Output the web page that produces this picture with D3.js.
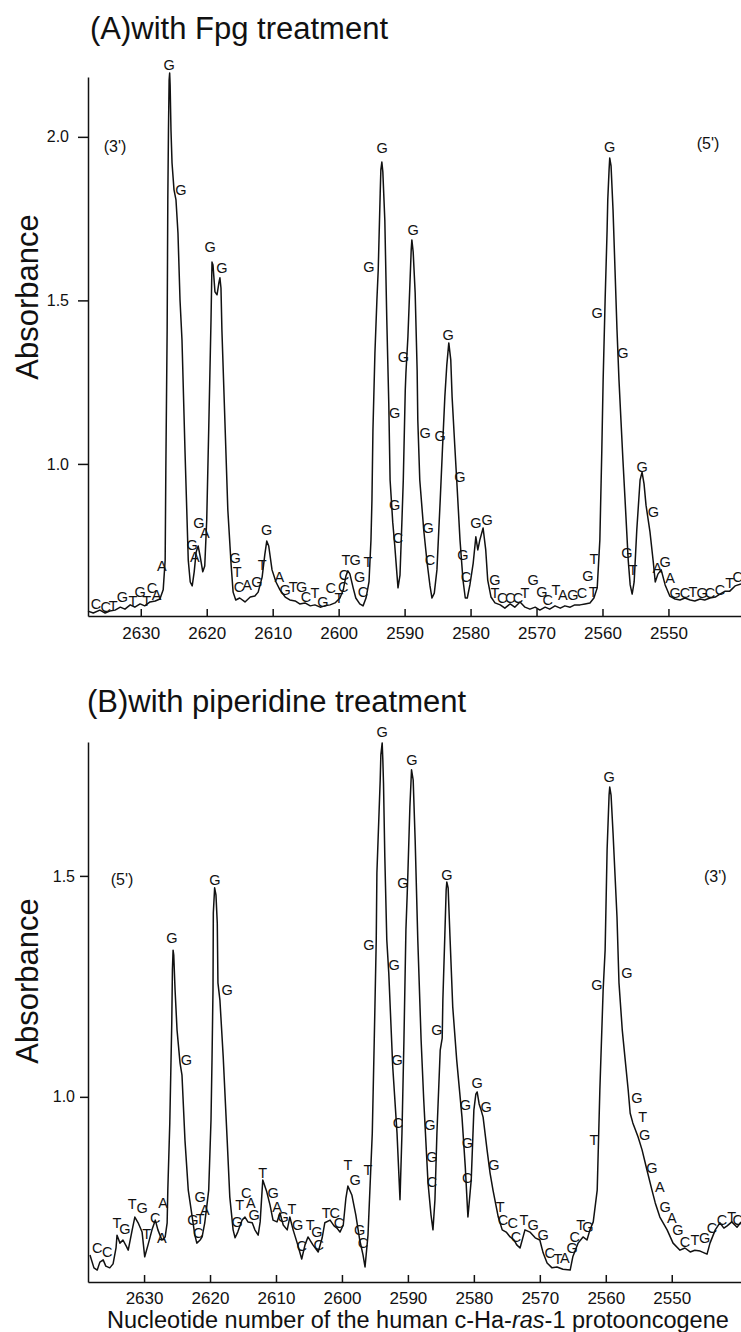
<!DOCTYPE html>
<html>
<head>
<meta charset="utf-8">
<script src="https://cdn.jsdelivr.net/npm/d3@7"></script>
<style>
  body { margin: 0; background: #fff; }
  svg { display: block; font-family: "Liberation Sans", Arial, Helvetica, sans-serif; }
  .trace { fill: none; stroke: #111; stroke-width: 1.5; stroke-linejoin: round; }
  .axis path, .axis line { stroke: #111; stroke-width: 1.5; }
  .axis text { font-family: "Liberation Sans", Arial, sans-serif; fill: #111; }
  .base { font-size: 14.5px; fill: #111; }
  .ends { font-size: 16px; fill: #111; }
  .title { font-size: 31px; fill: #111; }
</style>
</head>
<body>
<div id="chart"></div>
<script>
// tick labels
var nucleotideTicks = [2630, 2620, 2610, 2600, 2590, 2580, 2570, 2560, 2550];
var absTicksA = [1.0, 1.5, 2.0];
var absTicksB = [1.0, 1.5];

// densitometer trace, (A) Fpg treatment: [nucleotide, absorbance]
var traceA = [
  [2638.0,0.550],[2637.2,0.544],[2636.2,0.553],[2635.4,0.544],[2634.7,0.550],[2633.9,0.553],[2633.1,0.562],[2632.4,0.556],
  [2631.6,0.569],[2630.9,0.562],[2630.1,0.572],[2629.4,0.566],[2628.6,0.578],[2627.8,0.581],[2627.1,0.587],[2626.6,0.615],
  [2626.3,0.706],[2626.2,0.981],[2626.0,1.410],[2625.9,1.807],[2625.8,2.021],[2625.7,2.174],[2625.62,2.195],[2625.55,2.159],
  [2625.42,2.021],[2625.26,1.920],[2624.96,1.838],[2624.66,1.807],[2624.36,1.706],[2624.05,1.501],[2623.75,1.379],[2623.3,1.043],
  [2622.8,0.706],[2622.5,0.639],[2622.2,0.627],[2621.9,0.670],[2621.6,0.731],[2621.3,0.749],[2621.0,0.718],[2620.6,0.670],
  [2620.3,0.688],[2620.0,0.829],[2619.7,1.104],[2619.35,1.440],[2619.2,1.617],[2619.05,1.608],[2618.75,1.526],[2618.44,1.517],
  [2618.14,1.556],[2618.0,1.569],[2617.84,1.538],[2617.7,1.410],[2617.2,1.104],[2616.8,0.859],[2616.3,0.691],[2616.0,0.608],
  [2615.6,0.584],[2615.0,0.590],[2614.2,0.578],[2613.4,0.593],[2612.7,0.596],[2612.2,0.608],[2611.6,0.654],[2611.2,0.722],
  [2610.9,0.764],[2610.6,0.749],[2610.1,0.676],[2609.5,0.639],[2608.9,0.615],[2608.1,0.593],[2607.4,0.584],[2606.6,0.581],
  [2605.9,0.572],[2605.1,0.575],[2604.3,0.566],[2603.6,0.569],[2602.8,0.562],[2602.1,0.566],[2601.3,0.569],[2600.55,0.575],
  [2599.8,0.590],[2599.3,0.615],[2598.9,0.657],[2598.6,0.673],[2598.3,0.664],[2597.8,0.621],[2597.4,0.590],[2596.8,0.572],
  [2596.3,0.566],[2595.85,0.590],[2595.4,0.639],[2595.1,0.767],[2594.95,0.890],[2594.8,1.104],[2594.5,1.339],[2594.2,1.501],
  [2594.0,1.593],[2593.7,1.828],[2593.6,1.899],[2593.45,1.923],[2593.3,1.893],[2593.0,1.746],[2592.7,1.440],[2592.4,1.186],
  [2592.2,0.951],[2591.8,0.822],[2591.5,0.752],[2591.15,0.660],[2591.0,0.621],[2590.7,0.660],[2590.4,0.829],[2590.2,0.951],
  [2589.9,1.226],[2589.8,1.278],[2589.5,1.388],[2589.2,1.547],[2589.0,1.654],[2588.9,1.685],[2588.7,1.648],[2588.4,1.523],
  [2588.1,1.287],[2588.0,1.134],[2587.7,0.951],[2587.1,0.798],[2586.6,0.700],[2586.15,0.627],[2585.85,0.590],[2585.5,0.605],
  [2585.1,0.676],[2584.6,0.890],[2584.3,1.027],[2584.2,1.073],[2583.9,1.205],[2583.6,1.303],[2583.3,1.370],[2583.0,1.318],
  [2582.8,1.205],[2582.4,1.058],[2582.1,0.951],[2581.6,0.767],[2581.15,0.645],[2580.8,0.590],[2580.5,0.590],[2580.1,0.630],
  [2579.6,0.697],[2579.2,0.777],[2578.9,0.737],[2578.6,0.767],[2578.1,0.804],[2577.7,0.737],[2577.4,0.645],[2576.9,0.593],
  [2576.3,0.575],[2575.5,0.569],[2574.8,0.559],[2574.0,0.572],[2573.3,0.562],[2572.5,0.578],[2571.75,0.562],[2571.0,0.556],
  [2570.2,0.562],[2569.5,0.553],[2568.7,0.562],[2568.0,0.556],[2567.2,0.566],[2566.4,0.559],[2565.7,0.566],[2564.9,0.562],
  [2564.2,0.569],[2563.4,0.569],[2562.65,0.572],[2561.9,0.575],[2561.3,0.590],[2560.8,0.621],[2560.4,0.767],[2560.1,1.043],
  [2559.9,1.257],[2559.6,1.501],[2559.3,1.715],[2559.2,1.807],[2559.0,1.899],[2558.9,1.935],[2558.7,1.911],[2558.4,1.776],
  [2558.1,1.593],[2557.8,1.410],[2557.5,1.257],[2557.2,1.134],[2556.9,1.012],[2556.6,0.899],[2556.1,0.706],[2555.8,0.630],
  [2555.5,0.602],[2555.2,0.639],[2554.8,0.798],[2554.3,0.951],[2554.0,0.975],[2553.7,0.939],[2553.4,0.874],[2552.8,0.792],
  [2552.3,0.700],[2552.0,0.639],[2551.6,0.663],[2551.1,0.676],[2550.5,0.630],[2549.8,0.596],[2549.0,0.587],[2548.25,0.584],
  [2547.5,0.590],[2546.7,0.584],[2546.0,0.581],[2545.2,0.587],[2544.5,0.584],[2543.7,0.590],[2542.9,0.593],[2542.2,0.602],
  [2541.4,0.611],[2540.7,0.611],[2539.9,0.627],[2539.0,0.633]
];

// densitometer trace, (B) piperidine treatment
var traceB = [
  [2638.2,0.642],[2637.6,0.613],[2637.1,0.608],[2636.7,0.626],[2636.2,0.631],[2635.8,0.617],[2635.2,0.613],[2634.7,0.622],
  [2634.25,0.658],[2634.1,0.687],[2633.65,0.669],[2633.2,0.676],[2632.7,0.662],[2632.4,0.653],[2631.8,0.699],[2631.4,0.728],
  [2630.9,0.715],[2630.3,0.694],[2629.9,0.638],[2629.4,0.665],[2628.8,0.699],[2628.3,0.721],[2627.9,0.699],[2627.3,0.676],
  [2626.8,0.683],[2626.5,0.715],[2626.4,0.789],[2626.1,0.941],[2625.8,1.167],[2625.7,1.287],[2625.6,1.332],[2625.5,1.321],
  [2625.3,1.242],[2625.0,1.151],[2624.55,1.077],[2624.25,1.049],[2623.8,0.902],[2623.3,0.789],[2622.7,0.728],[2622.3,0.687],
  [2622.0,0.669],[2621.5,0.676],[2621.2,0.683],[2620.8,0.715],[2620.5,0.751],[2620.2,0.789],[2619.85,0.948],[2619.7,1.083],
  [2619.55,1.242],[2619.5,1.416],[2619.3,1.473],[2619.1,1.457],[2618.9,1.393],[2618.8,1.258],[2618.5,1.219],[2618.0,1.090],
  [2617.4,0.902],[2617.0,0.773],[2616.5,0.699],[2616.2,0.681],[2615.8,0.694],[2615.15,0.721],[2614.7,0.728],[2614.25,0.717],
  [2613.6,0.715],[2613.2,0.699],[2612.7,0.687],[2612.4,0.717],[2612.1,0.789],[2612.0,0.812],[2611.4,0.785],[2610.9,0.755],
  [2610.45,0.721],[2609.85,0.717],[2609.4,0.737],[2608.9,0.710],[2608.3,0.699],[2607.9,0.728],[2607.4,0.699],[2606.7,0.665],
  [2606.1,0.633],[2605.6,0.665],[2605.15,0.683],[2604.4,0.665],[2603.6,0.649],[2603.0,0.681],[2602.6,0.715],[2601.8,0.721],
  [2601.2,0.708],[2600.75,0.703],[2600.3,0.694],[2599.8,0.710],[2599.4,0.771],[2599.1,0.798],[2598.5,0.778],[2597.9,0.733],
  [2597.3,0.676],[2596.8,0.642],[2596.5,0.615],[2596.05,0.687],[2595.4,0.918],[2595.1,1.129],[2594.8,1.355],[2594.7,1.507],
  [2594.2,1.717],[2594.1,1.774],[2593.9,1.801],[2593.8,1.762],[2593.7,1.710],[2593.5,1.543],[2593.2,1.355],[2592.9,1.280],
  [2592.6,1.174],[2592.3,1.068],[2591.65,0.918],[2591.2,0.767],[2590.9,0.918],[2590.6,1.129],[2590.3,1.378],[2590.1,1.461],
  [2590.0,1.507],[2589.7,1.656],[2589.45,1.740],[2589.2,1.717],[2588.9,1.581],[2588.5,1.355],[2588.0,1.129],[2587.6,0.993],
  [2586.95,0.805],[2586.5,0.733],[2586.2,0.699],[2585.9,0.767],[2585.6,0.918],[2585.1,1.106],[2584.8,1.133],[2584.7,1.219],
  [2584.4,1.366],[2584.2,1.468],[2584.1,1.486],[2583.9,1.473],[2583.6,1.355],[2583.2,1.203],[2582.6,1.083],[2581.8,0.954],
  [2581.3,0.841],[2580.9,0.728],[2580.4,0.812],[2580.0,0.970],[2579.7,1.006],[2579.5,1.011],[2579.2,0.984],[2578.9,0.970],
  [2578.6,0.954],[2578.0,0.880],[2577.55,0.828],[2577.1,0.789],[2576.3,0.728],[2575.7,0.699],[2575.1,0.694],[2574.5,0.683],
  [2573.9,0.676],[2573.5,0.665],[2573.0,0.658],[2572.25,0.699],[2571.5,0.694],[2570.7,0.681],[2570.0,0.676],[2569.5,0.647],
  [2568.9,0.624],[2568.15,0.613],[2567.4,0.615],[2566.5,0.610],[2565.4,0.608],[2565.0,0.638],[2564.2,0.669],[2563.45,0.683],
  [2562.85,0.676],[2562.4,0.699],[2561.9,0.717],[2561.3,0.789],[2560.9,1.015],[2560.4,1.242],[2560.1,1.332],[2559.8,1.559],
  [2559.5,1.683],[2559.4,1.701],[2559.2,1.683],[2558.9,1.597],[2558.3,1.407],[2558.0,1.258],[2557.5,1.151],[2557.1,1.090],
  [2556.6,1.015],[2556.3,0.963],[2555.9,0.941],[2555.1,0.909],[2554.5,0.880],[2553.75,0.834],[2553.0,0.789],[2552.5,0.760],
  [2551.8,0.728],[2550.7,0.699],[2549.8,0.669],[2548.75,0.653],[2548.0,0.658],[2547.2,0.649],[2546.5,0.653],[2545.7,0.651],
  [2544.65,0.644],[2544.2,0.669],[2543.4,0.699],[2542.7,0.715],[2542.1,0.703],[2541.6,0.708],[2540.9,0.717],[2540.1,0.705],
  [2539.5,0.717]
];

// base calls written along the traces: [letter, nucleotide, absorbance]
var basesA = [
  ["C",2636.8,0.572],["C",2635.3,0.563],["T",2634.2,0.566],["G",2632.8,0.593],["T",2631.2,0.581],["G",2630.1,0.608],
  ["T",2629.1,0.581],["C",2628.3,0.621],["A",2627.6,0.599],["A",2626.8,0.688],["G",2625.7,2.220],["G",2623.9,1.837],
  ["G",2622.2,0.752],["A",2621.8,0.715],["G",2621.2,0.819],["A",2620.3,0.789],["G",2619.5,1.663],["G",2617.7,1.599],
  ["G",2615.7,0.712],["T",2615.4,0.670],["C",2615.1,0.624],["A",2613.9,0.630],["G",2612.4,0.639],["T",2611.6,0.691],
  ["G",2610.9,0.798],["A",2609.0,0.654],["G",2608.1,0.614],["T",2606.9,0.624],["G",2605.6,0.624],["C",2604.95,0.593],
  ["T",2603.6,0.605],["G",2602.4,0.578],["C",2601.2,0.621],["T",2599.95,0.590],["C",2599.3,0.624],["C",2599.2,0.660],
  ["T",2598.9,0.706],["G",2597.5,0.706],["T",2595.55,0.700],["G",2596.8,0.654],["C",2596.3,0.608],
  ["G",2593.4,1.966],["G",2595.4,1.602],["G",2591.5,1.156],["G",2591.5,0.874],["C",2591.0,0.774],["G",2590.2,1.327],
  ["G",2588.7,1.715],["G",2586.9,1.095],["G",2586.45,0.804],["C",2586.15,0.706],["G",2584.6,1.085],["G",2583.4,1.394],
  ["G",2581.6,0.960],["G",2581.15,0.722],["C",2580.7,0.654],["G",2579.2,0.819],["G",2577.5,0.829],
  ["G",2576.3,0.645],["T",2576.3,0.605],["C",2575.2,0.590],["C",2574.0,0.590],["C",2572.8,0.590],["T",2571.75,0.605],
  ["G",2570.5,0.645],["G",2569.2,0.608],["C",2568.3,0.584],["T",2567.05,0.614],["A",2566.0,0.599],["G",2564.5,0.599],
  ["C",2563.1,0.605],["T",2561.4,0.608],["G",2562.2,0.657],["T",2561.3,0.709],["G",2560.8,1.461],["G",2558.9,1.969],
  ["G",2556.9,1.339],["G",2556.3,0.728],["T",2555.4,0.676],["G",2554.0,0.991],["G",2552.3,0.853],["A",2551.7,0.682],
  ["G",2550.5,0.700],["A",2549.75,0.651],["G",2549.0,0.605],["C",2547.5,0.605],["T",2546.3,0.608],["G",2544.9,0.605],
  ["C",2543.7,0.605],["C",2542.2,0.614],["T",2540.7,0.636],["C",2539.5,0.654]
];

var basesB = [
  ["C",2637.1,0.658],["C",2635.6,0.649],["T",2634.1,0.715],["G",2632.9,0.701],["T",2631.8,0.758],["G",2630.3,0.748],
  ["T",2629.6,0.690],["C",2628.3,0.726],["A",2627.1,0.760],["A",2627.3,0.681],["G",2625.8,1.359],["G",2623.6,1.083],
  ["G",2622.6,0.721],["T",2621.5,0.724],["G",2621.5,0.773],["A",2620.8,0.744],["C",2621.8,0.692],["G",2619.25,1.491],
  ["G",2617.4,1.242],["G",2615.9,0.717],["T",2615.5,0.755],["C",2614.5,0.782],["A",2613.8,0.760],["G",2613.3,0.733],
  ["T",2612.0,0.828],["G",2610.45,0.782],["A",2609.85,0.751],["G",2608.9,0.728],["T",2607.6,0.746],["G",2606.7,0.710],
  ["C",2606.1,0.662],["T",2604.8,0.710],["G",2603.8,0.694],["C",2603.5,0.665],["T",2602.4,0.737],["C",2601.1,0.737],
  ["C",2600.45,0.715],["T",2599.1,0.846],["G",2598.0,0.812],["T",2596.05,0.834],["G",2597.3,0.699],["C",2596.8,0.669],
  ["G",2593.9,1.826],["G",2595.9,1.344],["G",2592.1,1.298],["G",2591.65,1.083],["C",2591.5,0.941],["G",2590.75,1.484],
  ["G",2589.4,1.762],["G",2586.65,0.936],["G",2586.35,0.864],["C",2586.35,0.807],["G",2585.6,1.151],["G",2584.1,1.502],
  ["G",2581.3,0.982],["G",2581.0,0.896],["C",2581.0,0.816],["G",2579.5,1.031],["G",2578.15,0.977],["G",2576.95,0.846],
  ["T",2576.0,0.751],["C",2575.6,0.721],["C",2574.1,0.715],["T",2572.4,0.721],["G",2571.0,0.710],["C",2573.6,0.683],
  ["G",2569.5,0.687],["C",2568.5,0.647],["T",2567.25,0.633],["A",2566.2,0.635],["G",2565.1,0.658],["C",2564.7,0.683],
  ["T",2563.8,0.710],["G",2562.7,0.705],["T",2561.8,0.902],["G",2561.35,1.253],["G",2559.5,1.724],["G",2556.8,1.280],
  ["G",2555.3,0.997],["T",2554.4,0.954],["G",2554.1,0.914],["G",2553.0,0.839],["A",2551.8,0.796],["G",2551.0,0.751],
  ["A",2550.0,0.726],["G",2549.05,0.699],["C",2548.0,0.672],["T",2546.5,0.676],["G",2545.0,0.681],["C",2543.9,0.703],
  ["C",2542.4,0.721],["T",2540.9,0.728],["C",2540.0,0.721]
];

// strand end marks: [text, nucleotide, absorbance]
var endsA = [["(3')",2633.9,1.972],["(5')",2544.0,1.981]];
var endsB = [["(5')",2633.35,1.493],["(3')",2543.4,1.500]];

var W = 741, H = 1332;
var svg = d3.select("#chart").append("svg")
    .attr("width", W)
    .attr("height", H);

function drawPanel(p) {
  var x = d3.scaleLinear().domain(p.xDomain).range([88, 741]);
  var y = d3.scaleLinear().domain(p.yDomain).range([p.bottom, p.top]);
  var g = svg.append("g");

  // title
  g.append("text")
      .attr("class", "title")
      .attr("x", p.titleX)
      .attr("y", p.titleY)
      .text(p.title);

  // y label
  g.append("text")
      .attr("class", "title")
      .attr("text-anchor", "middle")
      .attr("transform", "translate(38," + p.yLabelY + ") rotate(-90)")
      .text("Absorbance");

  // x axis, ticks pointing up into the plot
  g.append("g")
      .attr("class", "axis")
      .attr("transform", "translate(0," + p.bottom + ")")
      .call(d3.axisBottom(x)
          .tickValues(nucleotideTicks)
          .tickFormat(d3.format("d"))
          .tickSizeInner(-7)
          .tickSizeOuter(0)
          .tickPadding(p.xPad))
      .selectAll("text")
        .style("font-size", "17px")
        .attr("dy", "0.75em");

  // y axis
  g.append("g")
      .attr("class", "axis")
      .attr("transform", "translate(88,0)")
      .call(d3.axisLeft(y)
          .tickValues(p.yTicks)
          .tickFormat(d3.format(".1f"))
          .tickSizeInner(p.yTick)
          .tickSizeOuter(0)
          .tickPadding(p.yPad))
      .selectAll("text")
        .style("font-size", "16px");

  var line = d3.line()
      .x(function (d) { return x(d[0]); })
      .y(function (d) { return y(d[1]); });

  g.append("path")
      .datum(p.trace)
      .attr("class", "trace")
      .attr("d", line);

  g.selectAll(".base")
      .data(p.bases)
      .enter()
      .append("text")
      .attr("class", "base")
      .attr("text-anchor", "middle")
      .attr("dy", "0.36em")
      .attr("x", function (d) { return x(d[1]); })
      .attr("y", function (d) { return y(d[2]); })
      .text(function (d) { return d[0]; });

  g.selectAll(".ends")
      .data(p.ends)
      .enter()
      .append("text")
      .attr("class", "ends")
      .attr("text-anchor", "middle")
      .attr("dy", "0.36em")
      .attr("x", function (d) { return x(d[1]); })
      .attr("y", function (d) { return y(d[2]); })
      .text(function (d) { return d[0]; });
}

drawPanel({
  title: "(A)with Fpg treatment", titleX: 90, titleY: 39,
  yLabelY: 297,
  xDomain: [2638, 2539], yDomain: [0.535, 2.183],
  top: 77, bottom: 616,
  xPad: 10, yTick: 10, yPad: 9,
  yTicks: absTicksA,
  trace: traceA, bases: basesA, ends: endsA
});

drawPanel({
  title: "(B)with piperidine treatment", titleX: 87, titleY: 712,
  yLabelY: 981,
  xDomain: [2638.5, 2539.5], yDomain: [0.581, 1.803],
  top: 742, bottom: 1282,
  xPad: 9, yTick: 8, yPad: 5,
  yTicks: absTicksB,
  trace: traceB, bases: basesB, ends: endsB
});

// shared x title, "ras" in italics
var xt = svg.append("text")
    .attr("x", 107)
    .attr("y", 1328)
    .style("font-size", "23.5px")
    .style("fill", "#111");
xt.append("tspan").text("Nucleotide number of the human c-Ha-");
xt.append("tspan").style("font-style", "italic").text("ras");
xt.append("tspan").text("-1 protooncogene");
</script>
</body>
</html>
